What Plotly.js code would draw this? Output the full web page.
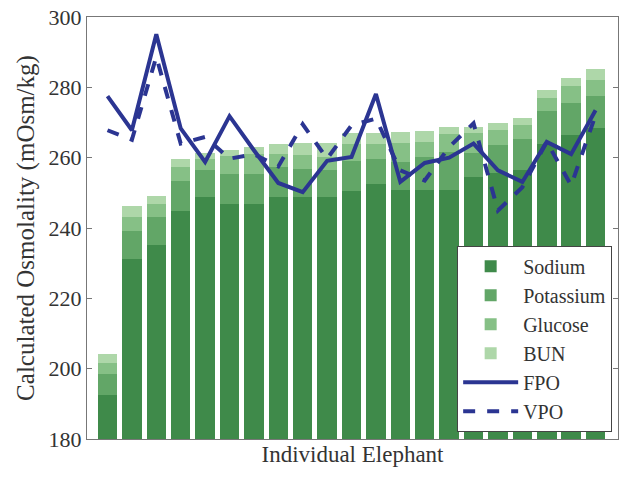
<!DOCTYPE html>
<html>
<head>
<meta charset="utf-8">
<script src="https://cdn.plot.ly/plotly-3.0.1.min.js"></script>
<style>html,body{margin:0;padding:0;background:#fff;}#chart{width:636px;height:477px;}</style>
</head>
<body>
<div id="chart"></div>
<script>
// Individual elephants (1..21)
const elephants = [1,2,3,4,5,6,7,8,9,10,11,12,13,14,15,16,17,18,19,20,21];
// Stacked contributions (mOsm/kg)
const sodium    = [192.4,231.2,235.2,244.8,248.8,246.7,246.8,248.7,248.8,248.8,250.6,252.6,250.7,250.7,250.7,254.6,255.5,256.4,264.0,266.4,268.3];
const potassium = [6.0,8.0,7.9,8.6,7.8,8.6,8.5,8.6,8.1,7.8,8.4,7.1,8.1,9.5,10.9,6.8,8.0,9.0,9.4,9.2,9.2];
const glucose   = [3.3,3.9,3.8,3.9,2.9,5.1,5.7,3.7,3.8,3.6,5.0,4.3,5.5,4.3,5.0,5.6,4.3,3.8,3.5,4.7,4.5];
const bun       = [2.6,3.1,2.2,2.2,1.9,1.7,2.0,3.0,3.6,4.1,3.0,3.0,3.0,3.1,2.1,1.8,2.1,2.2,2.3,2.4,3.1];
// Measured osmolality
const fpo = [277.5,267.8,295.1,268.3,258.8,271.8,262.1,252.8,250.2,259.1,260.2,278.1,253.1,258.5,260.0,264.0,256.4,253.1,264.5,261.0,273.5];
const vpo = [267.8,265.1,288.7,264.0,265.9,259.7,261.0,257.5,269.5,259.7,269.2,271.1,256.4,253.5,263.0,269.8,245.0,251.6,264.5,252.1,272.1];

const x = elephants.map((e, i) => i);
const font = "Liberation Serif, Times New Roman, serif";
const barColors = ["#3f8a4a", "#62a667", "#86c086", "#aed7a9"];
const lineColor = "#2b3592";

function barTrace(name, y, color) {
  return {type: "bar", name: name, x: x, y: y, marker: {color: color, line: {width: 0}},
          hoverinfo: "y"};
}

const data = [
  barTrace("Sodium", sodium, barColors[0]),
  barTrace("Potassium", potassium, barColors[1]),
  barTrace("Glucose", glucose, barColors[2]),
  barTrace("BUN", bun, barColors[3]),
  {type: "scatter", mode: "lines", name: "FPO", x: x, y: fpo,
   line: {color: lineColor, width: 4}},
  {type: "scatter", mode: "lines", name: "VPO", x: x, y: vpo,
   line: {color: lineColor, width: 4, dash: "dash"}}
];

const layout = {
  width: 636, height: 477,
  margin: {l: 87, r: 18, t: 17, b: 38, pad: 0},
  paper_bgcolor: "#fff", plot_bgcolor: "#fff",
  font: {family: font, size: 22, color: "#333"},
  barmode: "stack",
  bargap: 0.2,
  showlegend: true,
  legend: {
    x: 0.989, xanchor: "right", y: 0.017, yanchor: "bottom",
    bgcolor: "#fff", bordercolor: "#444", borderwidth: 1,
    font: {family: font, size: 20, color: "#333"},
    traceorder: "normal", itemwidth: 55, tracegroupgap: 0
  },
  xaxis: {
    range: [-0.84, 20.92],
    showticklabels: false, ticks: "",
    showline: true, linecolor: "#777", linewidth: 1, mirror: true,
    showgrid: false, zeroline: false,
    title: {text: "Individual Elephant", font: {family: font, size: 23, color: "#333"}, standoff: 6}
  },
  yaxis: {
    range: [180, 300],
    tickvals: [180,200,220,240,260,280,300],
    ticks: "inside", ticklen: 5, tickcolor: "#777",
    showline: true, linecolor: "#777", linewidth: 1, mirror: "ticks",
    showgrid: false, zeroline: false,
    tickfont: {family: font, size: 22, color: "#333"},
    title: {text: "Calculated Osmolality (mOsm/kg)", font: {family: font, size: 25, color: "#333"}, standoff: 6}
  }
};

Plotly.newPlot("chart", data, layout, {displayModeBar: false, staticPlot: true});
</script>
</body>
</html>
